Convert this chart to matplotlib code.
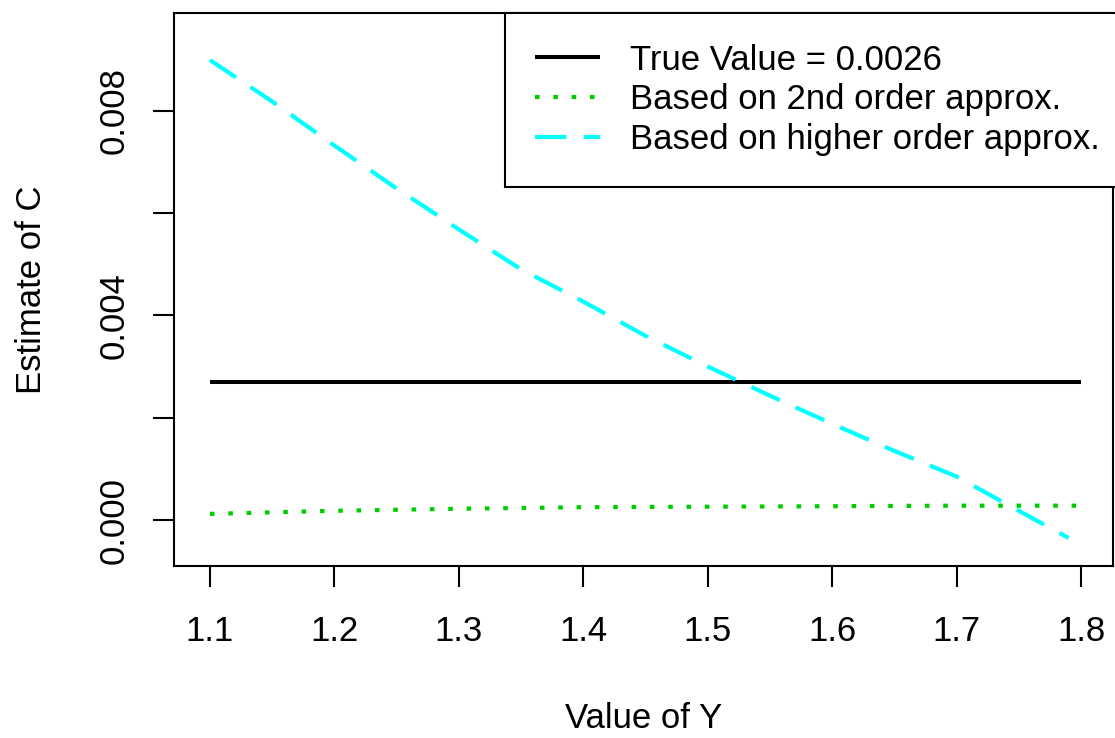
import numpy as np
import matplotlib.pyplot as plt

plt.rcParams['font.family'] = ['Liberation Sans', 'DejaVu Sans']

# values
true_value = 0.0027
true_x = [1.1, 1.8]

second_x = [1.1, 1.2, 1.3, 1.4, 1.5, 1.6, 1.7, 1.8]
second_y = [0.00012, 0.00018, 0.00022, 0.00025, 0.00026, 0.00027, 0.00028, 0.00028]

higher_x = [1.10, 1.15, 1.20, 1.25, 1.30, 1.35, 1.40, 1.45, 1.50, 1.55, 1.60,
            1.65, 1.70, 1.75, 1.79]
higher_y = [0.00899, 0.00818, 0.00732, 0.00648, 0.00568, 0.00490, 0.00427,
            0.00360, 0.00300, 0.00243, 0.00188, 0.00135, 0.00085, 0.00018,
            -0.00035]

x_ticks = [1.1, 1.2, 1.3, 1.4, 1.5, 1.6, 1.7, 1.8]
y_ticks = [0.000, 0.002, 0.004, 0.006, 0.008]
y_labels = ['0.000', '', '0.004', '', '0.008']

W, H = 1115, 738
fig = plt.figure(figsize=(W/100, H/100), dpi=100)
ax = fig.add_axes([174/W, 1 - 566/H, (1113-174)/W, (566-13)/H])

fs = 25

ax.plot(true_x, [true_value]*len(true_x), color='black', lw=2.9,
        solid_capstyle='butt', label='True Value = 0.0026')
ax.plot(second_x, second_y, color='#00CD00', lw=3, dashes=(1.1, 3.3),
        label='Based on 2nd order approx.')
ax.plot(higher_x, higher_y, color='cyan', lw=3, dashes=(7.5, 4.2),
        label='Based on higher order approx.')

ax.set_xlim(1.0711, 1.8257)
ax.set_ylim(-0.000899, 0.00991)
ax.set_xticks(x_ticks)
ax.set_xticklabels([f'{v:.1f}' for v in x_ticks])
ax.set_yticks(y_ticks)
ax.set_yticklabels(y_labels, rotation=90, va='center')

for s in ax.spines.values():
    s.set_linewidth(1.5)
ax.tick_params(length=15, width=1.5, labelsize=fs, color='black')
ax.tick_params(axis='x', pad=20)
ax.tick_params(axis='y', pad=16)

ax.set_xlabel('Value of Y', fontsize=fs, labelpad=39)
ax.set_ylabel('Estimate of C', fontsize=fs, labelpad=36)

leg = ax.legend(loc='upper right', bbox_to_anchor=(1 + 17/939, 1), borderaxespad=0,
                fontsize=fs, fancybox=False, framealpha=1, edgecolor='black',
                handlelength=1.87, handletextpad=0.85, borderpad=0.88,
                labelspacing=0.2)
leg.get_frame().set_linewidth(1.5)
leg.set_clip_on(False)

fig.savefig('out.png', dpi=100)
